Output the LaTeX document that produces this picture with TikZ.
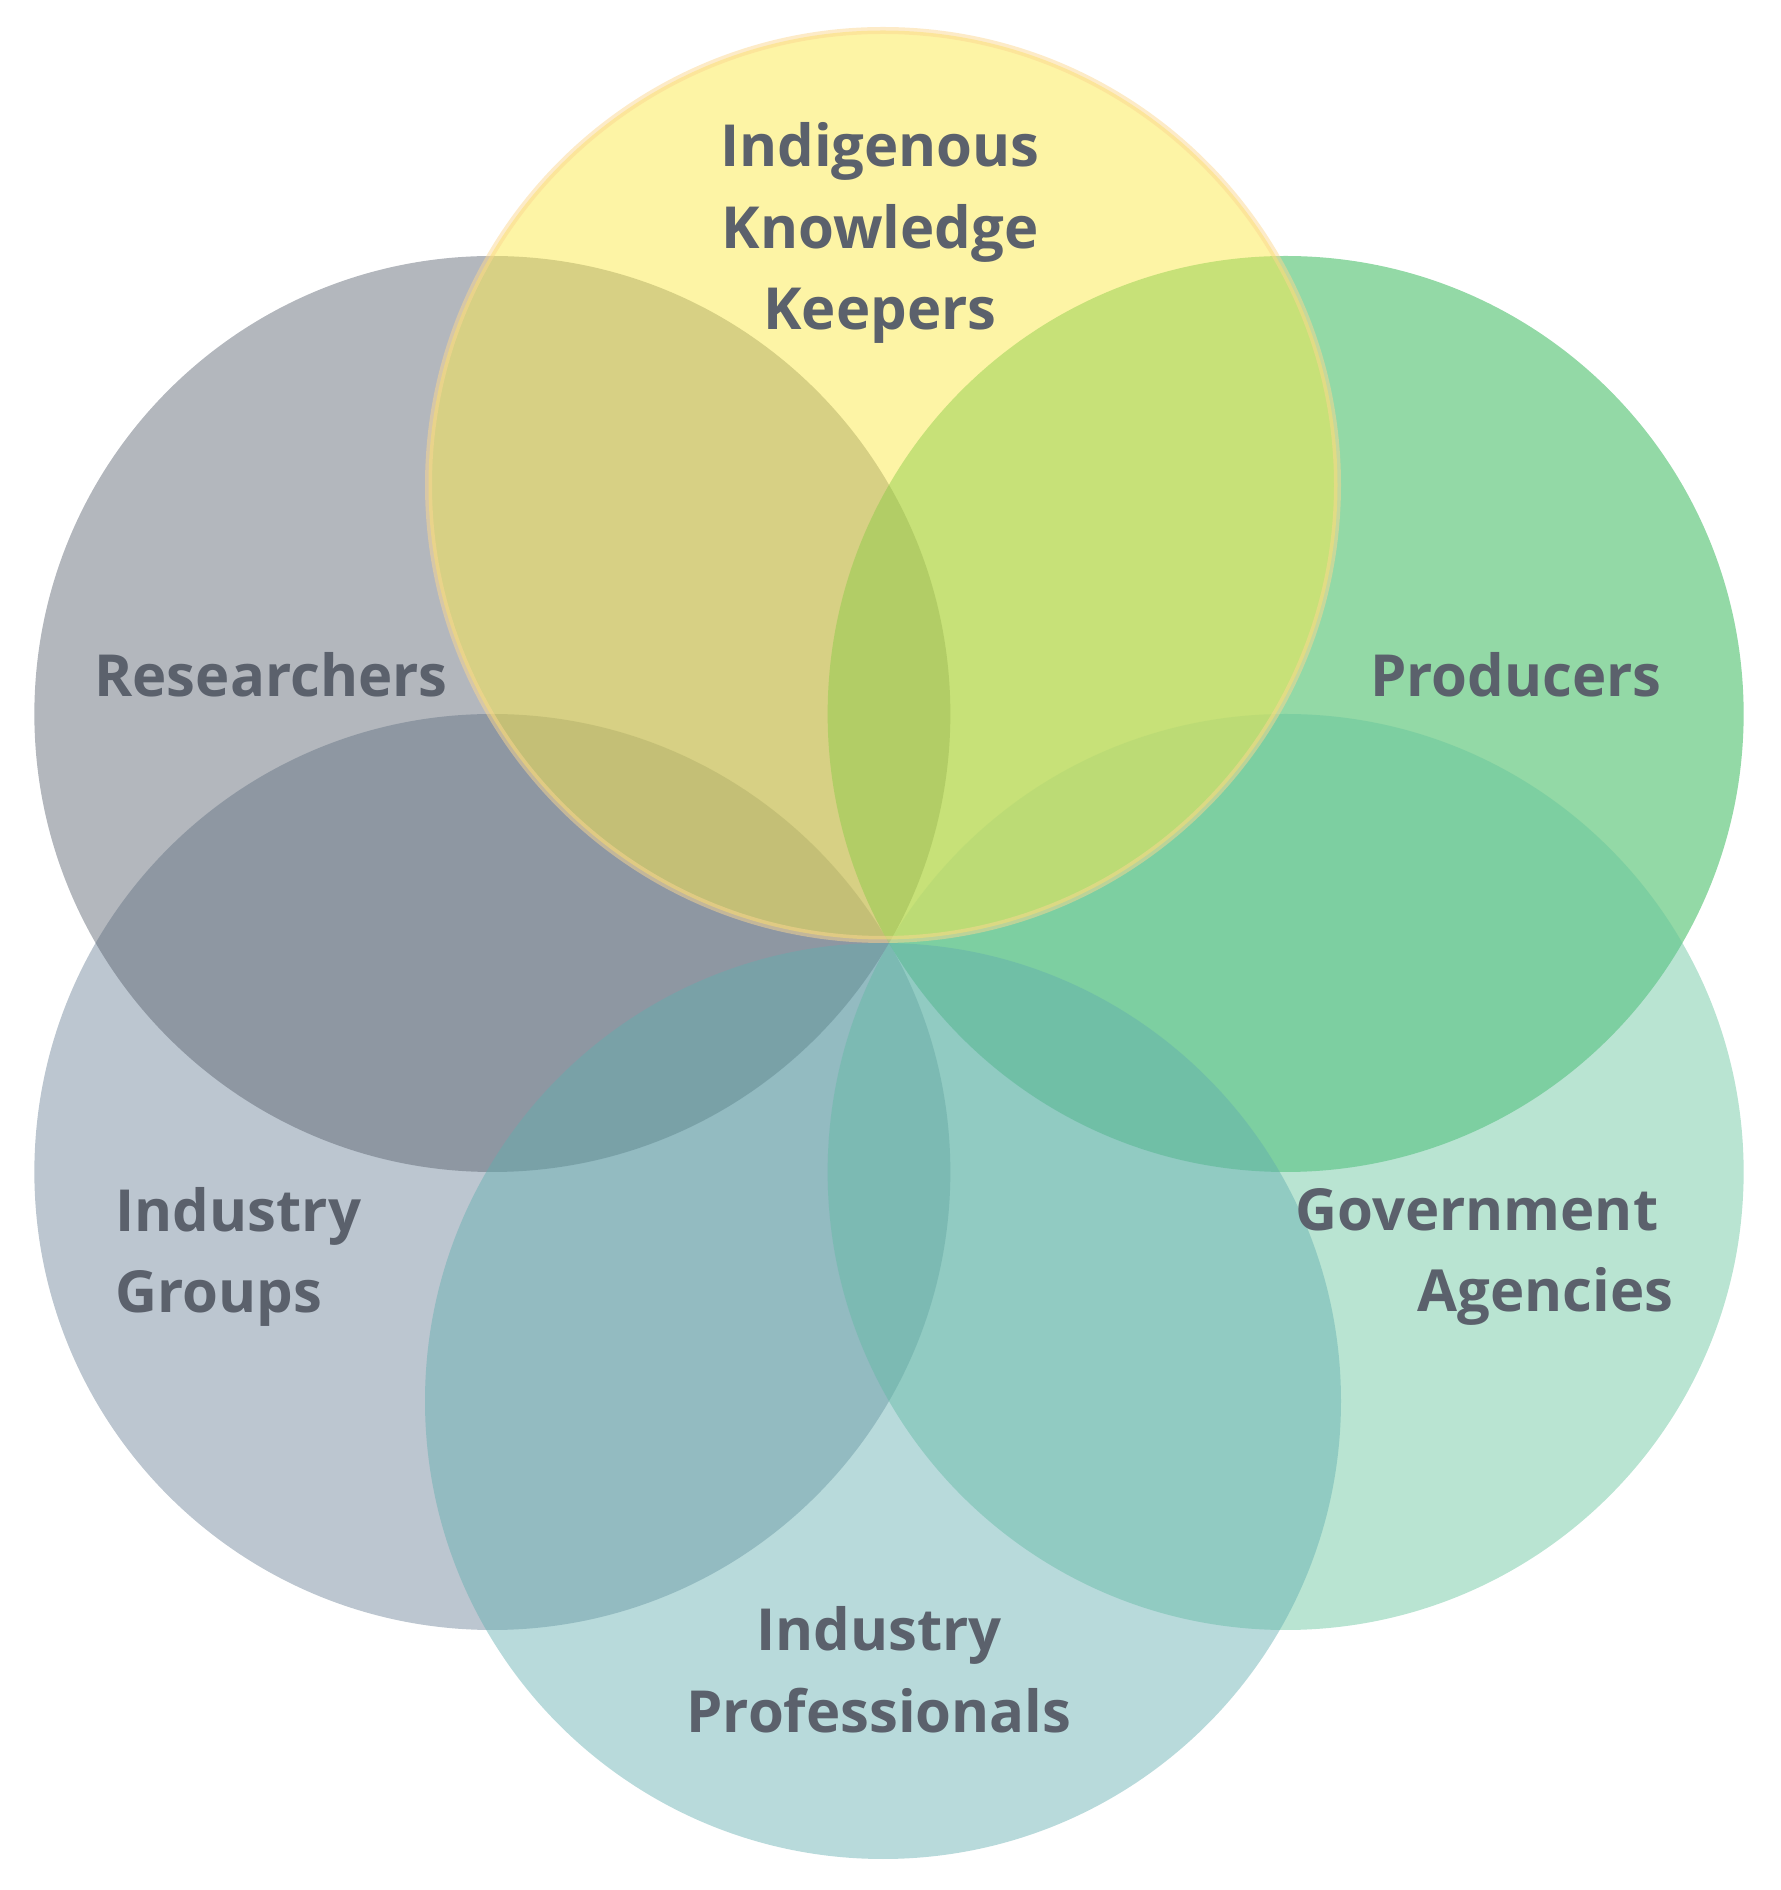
\documentclass[tikz,border=0pt]{standalone}
\usepackage{fontspec}
\setmainfont{Open Sans}
\definecolor{ikk}{RGB}{251,233,75}
\definecolor{ikkline}{RGB}{251,215,145}
\definecolor{res}{RGB}{86,95,108}
\definecolor{pro}{RGB}{15,170,57}
\definecolor{grp}{RGB}{106,128,150}
\definecolor{gov}{RGB}{99,195,155}
\definecolor{prf}{RGB}{97,173,175}
\definecolor{txt}{RGB}{91,97,108}
\tikzset{petal/.style={circle,minimum size=9.16cm,inner sep=0pt,opacity=0.45}}
\tikzset{t/.style={font=\fontsize{16.5}{23.2}\selectfont\bfseries,text=txt,inner sep=0pt}}

\begin{document}
\begin{tikzpicture}
  \useasboundingbox (0,0) rectangle (17.8,18.9);
  \coordinate (O) at (8.89,9.47);
  \node[petal,fill=grp] (G) at ([shift={(210:4.58)}]O) {};
  \node[petal,fill=res] (R) at ([shift={(150:4.58)}]O) {};
  \node[petal,fill=pro] (P) at ([shift={(30:4.58)}]O) {};
  \node[petal,fill=gov] (A) at ([shift={(330:4.58)}]O) {};
  \node[petal,fill=prf] (F) at ([shift={(-0.06,-4.58)}]O) {};
  \node[petal,fill=ikk,draw=ikkline,line width=0.07cm,minimum size=9.09cm,opacity=0.5] (K) at ([shift={(-0.06,4.58)}]O) {};
  \node[t,align=center] (Kt) at (8.80,16.57) {Indigenous\\Knowledge\\Keepers};
  \node[t] (Rt) at (2.71,12.15) {Researchers};
  \node[t] (Pt) at (15.16,12.15) {Producers};
  \node[t,align=left,anchor=west] (Gt) at (1.15,6.33) {Industry\\Groups};
  \node[t,align=right,anchor=east] (At) at (16.74,6.33) {Government\hspace*{0.26em}\\Agencies};
  \node[t,align=center] (Ft) at (8.79,2.20) {Industry\\Professionals};
\end{tikzpicture}
\end{document}
